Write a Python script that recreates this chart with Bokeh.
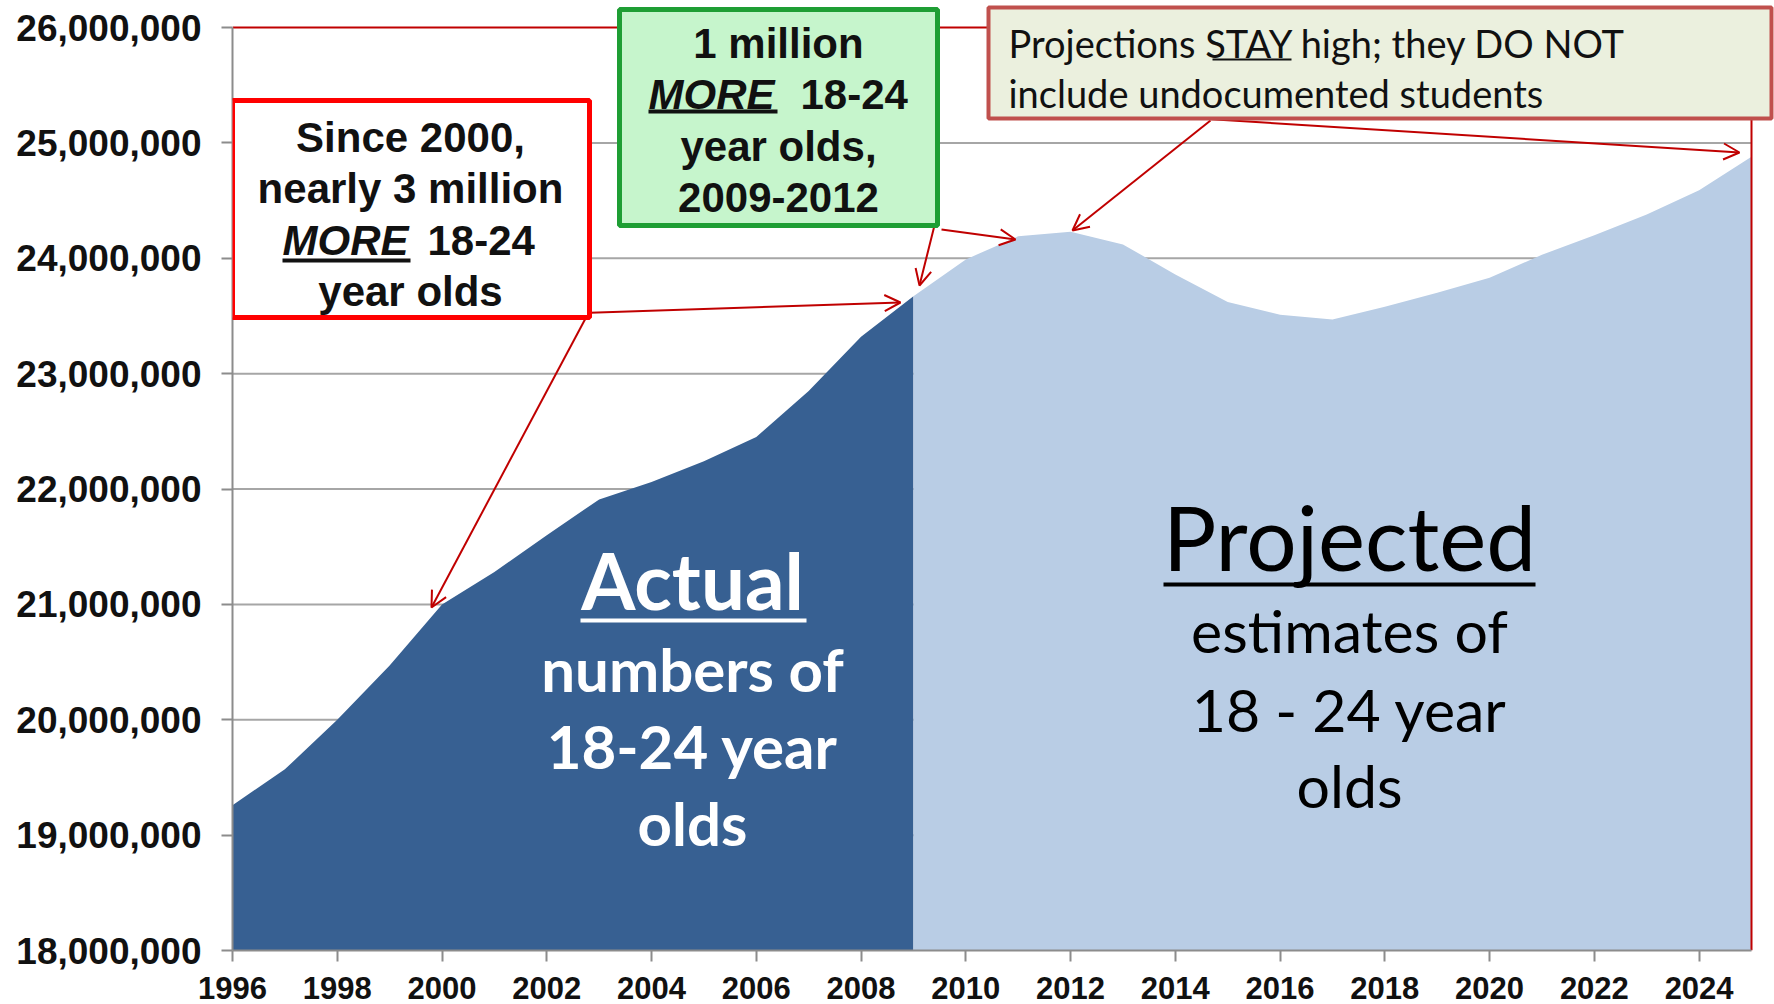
from bokeh.plotting import figure
from bokeh.models import (BoxAnnotation, Label, Arrow, OpenHead,
                          NumeralTickFormatter, FixedTicker)
from bokeh.embed import file_html
from bokeh.resources import INLINE

# ---------------- data ----------------
actual_years = list(range(1996, 2010))
actual_values = [19.26e6, 19.57e6, 20.00e6, 20.47e6, 21.00e6, 21.28e6, 21.60e6,
                 21.91e6, 22.06e6, 22.24e6, 22.45e6, 22.85e6, 23.32e6, 23.67e6]
projected_years = list(range(2009, 2026))
projected_values = [23.67e6, 23.99e6, 24.19e6, 24.23e6, 24.12e6, 23.86e6, 23.62e6,
                    23.51e6, 23.47e6, 23.58e6, 23.70e6, 23.83e6, 24.03e6, 24.20e6,
                    24.38e6, 24.59e6, 24.88e6]
y_ticks = [18e6, 19e6, 20e6, 21e6, 22e6, 23e6, 24e6, 25e6, 26e6]
x_ticks = list(range(1996, 2025, 2))

# ---------------- layout ----------------
W, H = 1774, 1004
L, R, T, B = 232, 1751, 27, 950          # pixel box of the axes (1996..2025, 18M..26M)
X0, X1 = 1996, 2025
Y0, Y1 = 18e6, 26e6
PX_PER_YEAR = (R - L) / (X1 - X0)
PX_PER_VAL = (B - T) / (Y1 - Y0)


def dx(px):
    return X0 + (px - L) / PX_PER_YEAR


def dy(py):
    return Y0 + (B - py) / PX_PER_VAL


# frame reaches the top and right edges of the canvas so callout boxes are not clipped
p = figure(width=W, height=H, x_range=(X0, dx(W)), y_range=(Y0, dy(0)),
           output_backend="svg", toolbar_location=None,
           min_border_left=L, min_border_right=0,
           min_border_top=0, min_border_bottom=H - B)
p.outline_line_color = None
p.background_fill_color = "white"
p.border_fill_color = "white"
p.xgrid.grid_line_color = None
p.ygrid.grid_line_color = None

# grid lines (under the areas)
grid_vals = y_ticks[1:-1]
p.segment(x0=[X0] * len(grid_vals), y0=grid_vals, x1=[X1] * len(grid_vals), y1=grid_vals,
          line_color="#A6A6A6", line_width=2)

# areas
p.varea(x=actual_years, y1=[Y0] * len(actual_years), y2=actual_values,
        fill_color="#376092")
p.varea(x=projected_years, y1=[Y0] * len(projected_years), y2=projected_values,
        fill_color="#B9CDE5")

# red border lines (top and right)
p.segment(x0=[X0, X1], y0=[Y1, Y1], x1=[X1, X1], y1=[Y1, Y0],
          line_color="#C00000", line_width=2)

# axes
p.yaxis.ticker = FixedTicker(ticks=y_ticks)
p.xaxis.ticker = FixedTicker(ticks=x_ticks)
p.yaxis.bounds = (Y0, Y1)
p.xaxis.bounds = (X0, X1)
p.yaxis.formatter = NumeralTickFormatter(format="0,0")
for ax in (p.xaxis[0], p.yaxis[0]):
    ax.axis_line_color = "#8C8C8C"
    ax.axis_line_width = 2
    ax.major_tick_line_color = "#8C8C8C"
    ax.major_tick_line_width = 2
    ax.major_tick_in = 0
    ax.major_tick_out = 11
    ax.minor_tick_line_color = None
    ax.major_label_text_font = "Liberation Sans"
    ax.major_label_text_font_style = "bold"
    ax.major_label_text_color = "#111111"
p.yaxis.major_label_text_font_size = "37px"
p.yaxis.major_label_standoff = 20
p.xaxis.major_label_text_font_size = "31px"
p.xaxis.major_label_standoff = 15

# ---------------- arrows ----------------
RED = "#C00000"
arrows = [
    ((585, 318), (431, 607)),
    ((567, 313), (900, 302)),
    ((934, 225), (919, 285)),
    ((941, 229), (1015, 239)),
    ((1210, 120), (1072, 230)),
    ((1199, 118), (1739, 152)),
]
for (sx, sy), (ex, ey) in arrows:
    p.add_layout(Arrow(end=OpenHead(size=16, line_color=RED, line_width=2),
                       x_start=dx(sx), y_start=dy(sy), x_end=dx(ex), y_end=dy(ey),
                       line_color=RED, line_width=2))


# ---------------- boxes ----------------
def box(x0, y0, x1, y1, fill, line, lw):
    p.add_layout(BoxAnnotation(left=dx(x0), right=dx(x1), top=dy(y0), bottom=dy(y1),
                               fill_color=fill, fill_alpha=1.0,
                               line_color=line, line_width=lw, line_alpha=1.0))


box(232, 100, 589, 317, "white", "#FF0000", 5)
box(619, 9, 937, 225, "#C6F5CC", "#1E9E34", 5)
box(988, 7, 1771, 118, "#EBF0DE", "#C0504D", 4)


def underline(x0, x1, y, h, color):
    p.add_layout(BoxAnnotation(left=dx(x0), right=dx(x1), top=dy(y - h / 2), bottom=dy(y + h / 2),
                               fill_color=color, fill_alpha=1.0, line_color=None))


def label(text, px, py, size, font="Liberation Sans", style="bold", color="#111111", align="center"):
    p.add_layout(Label(x=dx(px), y=dy(py), text=text, text_font=font,
                       text_font_size=f"{size}px", text_font_style=style,
                       text_color=color, text_align=align, text_baseline="middle"))


# red box text
label("Since 2000,", 410, 137, 42)
label("nearly 3 million", 410, 188, 42)
label("MORE", 282, 240, 42, style="bold italic", align="left")
label("18-24", 427, 240, 42, align="left")
label("year olds", 410, 291, 42)
underline(282, 410, 260, 4, "#111111")

# green box text
label("1 million", 778, 43, 42)
label("MORE", 648, 94, 42, style="bold italic", align="left")
label("18-24", 800, 94, 42, align="left")
label("year olds,", 778, 146, 42)
label("2009-2012", 778, 197, 42)
underline(648, 777, 111, 4, "#111111")

# tan box text
label("Projections STAY high; they DO NOT", 1008, 42, 38, font="Lato", style="normal", align="left")
label("include undocumented students", 1008, 92, 38, font="Lato", style="normal", align="left")
underline(1212, 1291, 59, 2, "#111111")

# big texts
label("Actual", 692, 579, 78, font="Lato", color="white")
underline(580, 806, 620, 4, "white")
label("numbers of", 692, 668, 60, font="Lato", color="white")
label("18-24 year", 692, 745, 60, font="Lato", color="white")
label("olds", 692, 822, 60, font="Lato", color="white")

label("Projected", 1349, 536, 89, font="Lato", style="normal", color="black")
underline(1163, 1535, 584, 4, "black")
label("estimates of", 1349, 630, 59, font="Lato", style="normal", color="black")
label("18 - 24 year", 1349, 709, 59, font="Lato", style="normal", color="black")
label("olds", 1349, 785, 59, font="Lato", style="normal", color="black")

open("out.html", "w").write(file_html(p, INLINE))
